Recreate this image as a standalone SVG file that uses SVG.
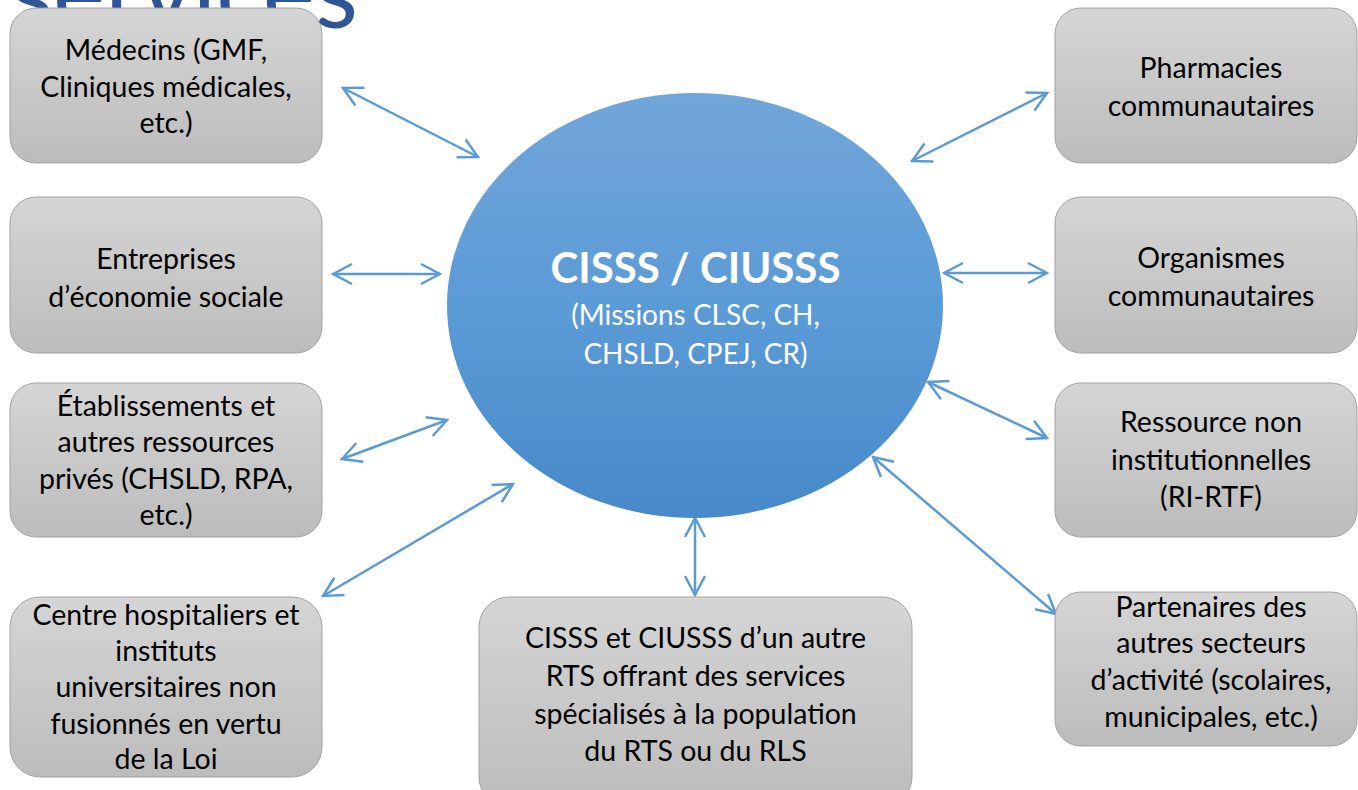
<svg xmlns="http://www.w3.org/2000/svg" width="1358" height="790" viewBox="0 0 1358 790">
<defs>
<linearGradient id="gBox" x1="0" y1="0" x2="0" y2="1">
<stop offset="0" stop-color="#d5d5d5"/>
<stop offset="1" stop-color="#bcbcbc"/>
</linearGradient>
<linearGradient id="gEll" x1="0" y1="0" x2="0" y2="1">
<stop offset="0" stop-color="#72a6da"/>
<stop offset="0.5" stop-color="#5b9bd6"/>
<stop offset="1" stop-color="#4789c9"/>
</linearGradient>
<marker id="ah" viewBox="-22 -12 24 24" refX="0" refY="0" markerWidth="24" markerHeight="24" markerUnits="userSpaceOnUse" orient="auto-start-reverse">
<path d="M-19,-10 L0,0 L-19,10" fill="none" stroke="#5b9bd5" stroke-width="2.5"/>
</marker>
</defs>
<style>
.box{fill:url(#gBox);stroke:#a3a3a3;stroke-width:1}
.t{font-family:Lato,"Liberation Sans",sans-serif;font-size:28.5px;fill:#000;text-anchor:middle}
.w{font-family:Lato,"Liberation Sans",sans-serif;fill:#fff;text-anchor:middle}
.c{fill:none;stroke:#5b9bd5;stroke-width:2.5;marker-start:url(#ah);marker-end:url(#ah)}
</style>
<rect width="1358" height="790" fill="#fff"/>
<text x="10" y="28" font-family="Lato,'Liberation Sans',sans-serif" font-size="100" fill="#2f5597" textLength="348" lengthAdjust="spacingAndGlyphs">services</text>

<g id="connectors">
<line class="c" x1="343" y1="88" x2="478" y2="157"/>
<line class="c" x1="333" y1="274" x2="440" y2="274"/>
<line class="c" x1="342" y1="459" x2="447" y2="420"/>
<line class="c" x1="323" y1="596" x2="513" y2="484"/>
<line class="c" x1="695" y1="518" x2="695" y2="595"/>
<line class="c" x1="1047" y1="93" x2="912" y2="161"/>
<line class="c" x1="944" y1="273" x2="1047" y2="273"/>
<line class="c" x1="928" y1="382" x2="1047" y2="438"/>
<line class="c" x1="873" y1="457" x2="1056" y2="614"/>
</g>

<g id="center">
<ellipse cx="695" cy="305.5" rx="248" ry="212.5" fill="url(#gEll)"/>
<text class="w" x="695.5" y="283" font-size="42" font-weight="bold">CISSS / CIUSSS</text>
<text class="w" x="695.5" y="325" font-size="28">(Missions CLSC, CH,</text>
<text class="w" x="695.5" y="364" font-size="28">CHSLD, CPEJ, CR)</text>
</g>

<g id="medecins">
<rect class="box" x="10" y="8" width="312" height="155" rx="26"/>
<text class="t" x="166" y="60">Médecins (GMF,</text>
<text class="t" x="166" y="97">Cliniques médicales,</text>
<text class="t" x="166" y="133">etc.)</text>
</g>

<g id="entreprises">
<rect class="box" x="10" y="197" width="312" height="156" rx="26"/>
<text class="t" x="166" y="269">Entreprises</text>
<text class="t" x="166" y="307">d’économie sociale</text>
</g>

<g id="etablissements">
<rect class="box" x="10" y="383" width="312" height="154" rx="26"/>
<text class="t" x="166" y="416">Établissements et</text>
<text class="t" x="166" y="452">autres ressources</text>
<text class="t" x="166" y="489">privés (CHSLD, RPA,</text>
<text class="t" x="166" y="525">etc.)</text>
</g>

<g id="centres">
<rect class="box" x="10" y="597" width="312" height="180" rx="30"/>
<text class="t" x="166" y="625">Centre hospitaliers et</text>
<text class="t" x="166" y="661">instituts</text>
<text class="t" x="166" y="697">universitaires non</text>
<text class="t" x="166" y="734">fusionnés en vertu</text>
<text class="t" x="166" y="769">de la Loi</text>
</g>

<g id="autre-rts">
<rect class="box" x="479" y="597" width="433" height="210" rx="30"/>
<text class="t" x="695.5" y="648">CISSS et CIUSSS d’un autre</text>
<text class="t" x="695.5" y="686">RTS offrant des services</text>
<text class="t" x="695.5" y="724">spécialisés à la population</text>
<text class="t" x="695.5" y="761">du RTS ou du RLS</text>
</g>

<g id="pharmacies">
<rect class="box" x="1055" y="8" width="302" height="155" rx="26"/>
<text class="t" x="1211" y="78">Pharmacies</text>
<text class="t" x="1211" y="116">communautaires</text>
</g>

<g id="organismes">
<rect class="box" x="1055" y="197" width="302" height="156" rx="26"/>
<text class="t" x="1211" y="268">Organismes</text>
<text class="t" x="1211" y="306">communautaires</text>
</g>

<g id="ressource">
<rect class="box" x="1055" y="383" width="302" height="154" rx="26"/>
<text class="t" x="1211" y="432">Ressource non</text>
<text class="t" x="1211" y="470">institutionnelles</text>
<text class="t" x="1211" y="507">(RI-RTF)</text>
</g>

<g id="partenaires">
<rect class="box" x="1055" y="592" width="302" height="154" rx="26"/>
<text class="t" x="1211" y="617">Partenaires des</text>
<text class="t" x="1211" y="653">autres secteurs</text>
<text class="t" x="1211" y="690">d’activité (scolaires,</text>
<text class="t" x="1211" y="727">municipales, etc.)</text>
</g>
</svg>
